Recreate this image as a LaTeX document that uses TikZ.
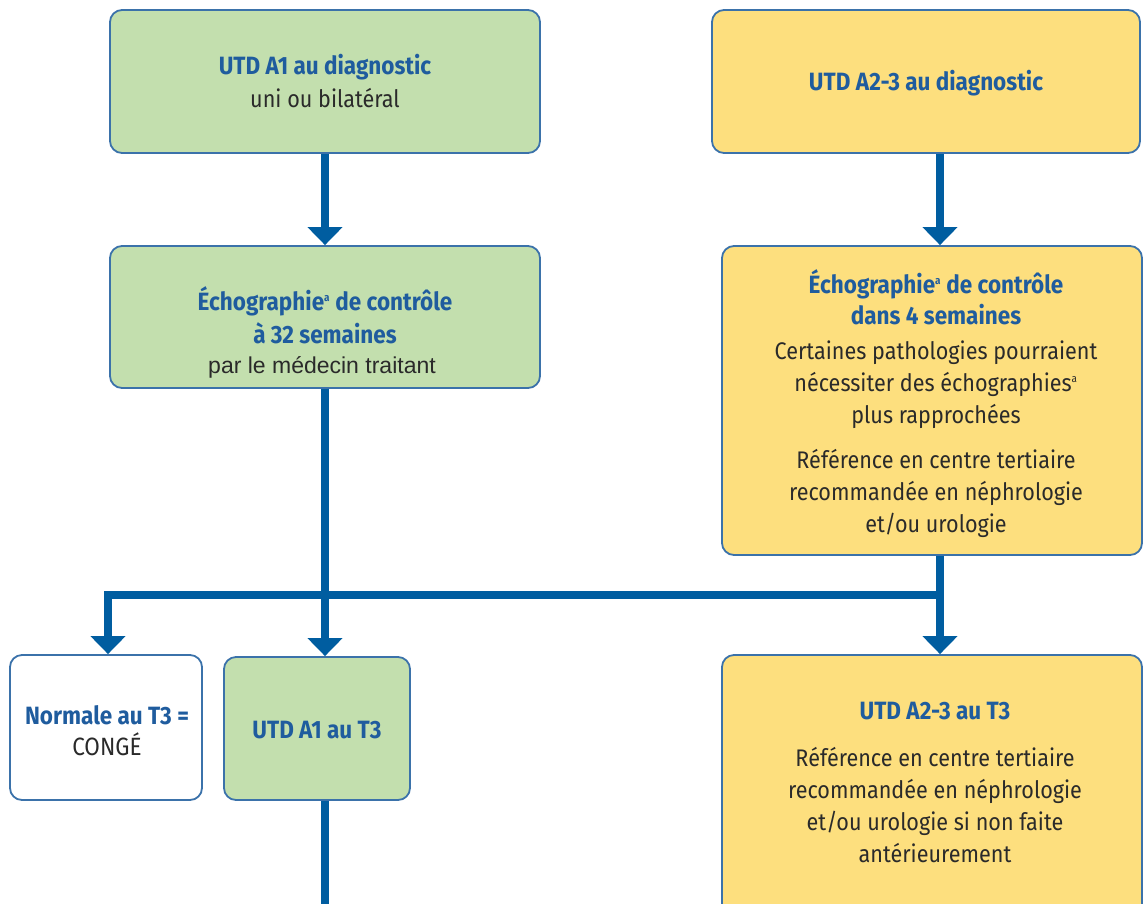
\documentclass[tikz,border=0pt]{standalone}
\usepackage{fontspec}
\setmainfont{Fira Sans}[FakeStretch=0.9]
\newfontfamily\plainfont{Liberation Sans}
\usetikzlibrary{arrows.meta}
\definecolor{boxgreen}{HTML}{C3DFAE}
\definecolor{boxyellow}{HTML}{FDDF7E}
\definecolor{edgeblue}{HTML}{3B72AA}
\definecolor{arrowblue}{HTML}{005DA0}
\definecolor{titleblue}{HTML}{1F5C9E}
\definecolor{bodytext}{HTML}{2A2A2A}
\tikzset{
  flowbox/.style={draw=edgeblue, line width=1.8pt, rounded corners=12pt, inner sep=0pt},
  greenbox/.style={flowbox, fill=boxgreen},
  yellowbox/.style={flowbox, fill=boxyellow},
  whitebox/.style={flowbox, fill=white},
  flowarrow/.style={draw=arrowblue, line width=8pt, -{Triangle[width=34pt,length=18pt]}},
  flowline/.style={draw=arrowblue, line width=8pt},
  ttl/.style={font=\fontsize{25}{31}\selectfont\bfseries, text=titleblue, inner sep=0pt, align=center},
  txt/.style={font=\fontsize{24}{32}\selectfont, text=bodytext, inner sep=0pt, align=center},
  plaintxt/.style={font=\plainfont\fontsize{23}{26}\selectfont, text=bodytext, inner sep=0pt, align=center},
}
\newcommand{\supa}{\textsuperscript{\fontsize{11}{11}\selectfont a}}
\begin{document}
\begin{tikzpicture}[x=1pt,y=-1pt]
\useasboundingbox (0,0) rectangle (1143,903);
% boxes
\node[greenbox, minimum width=430pt, minimum height=143pt] (b1) at (325,81.5) {};
\node[yellowbox, minimum width=428pt, minimum height=143pt] (b2) at (926,81.5) {};
\node[greenbox, minimum width=430pt, minimum height=142pt] (b3) at (325,317) {};
\node[yellowbox, minimum width=420pt, minimum height=309pt] (b4) at (932,400.5) {};
\node[whitebox, minimum width=192pt, minimum height=145pt] (b5) at (106,727.5) {};
\node[greenbox, minimum width=186pt, minimum height=143pt] (b6) at (317,728.5) {};
\node[yellowbox, minimum width=420pt, minimum height=270pt] (b7) at (932,790) {};
% texts
\node[ttl] (t1a) at (325,67) {UTD A1 au diagnostic};
\node[txt] (t1b) at (325,98) {uni ou bilatéral};
\node[ttl] (t2) at (926,83) {UTD A2-3 au diagnostic};
\node[ttl] (t3a) at (325,301) {Échographie\supa{} de contrôle};
\node[ttl] (t3b) at (325,333) {à 32 semaines};
\node[plaintxt] (t3c) at (322,367) {par le médecin traitant};
\node[ttl] (t4a) at (936,297) {Échographie\supa{} de contrôle\\dans 4 semaines};
\node[txt] (t4b) at (936,385) {Certaines pathologies pourraient\\nécessiter des échographies\supa\\plus rapprochées};
\node[txt] (t4c) at (936,493) {Référence en centre tertiaire\\recommandée en néphrologie\\et/ou urologie};
\node[ttl] (t5) at (107,731) {Normale au T3 =\\\mdseries\color{bodytext}CONGÉ};
\node[ttl] (t6) at (317,730) {UTD A1 au T3};
\node[ttl] (t7a) at (935,711) {UTD A2-3 au T3};
\node[txt] (t7b) at (935,805.5) {Référence en centre tertiaire\\recommandée en néphrologie\\et/ou urologie si non faite\\antérieurement};
% connector coordinates
\coordinate (colR) at (940,0);
\coordinate (juncR) at (940,595);
\coordinate (juncL) at (108,595);
\coordinate (bottom) at (325,910);
% connectors
\draw[flowarrow] (b1.south) -- (b3.north);
\draw[flowarrow] (b2.south -| colR) -- (b4.north -| colR);
\draw[flowarrow] (b3.south) -- (b6.north -| b3.south);
\draw[flowarrow] (b4.south -| colR) -- (b7.north -| colR);
\draw[flowline] ([xshift=-4pt]juncL) -- ([xshift=4pt]juncR);
\draw[flowarrow] ([yshift=-4pt]juncL) -- (b5.north -| juncL);
\draw[flowline] (b6.south -| b3.south) -- (bottom);
\end{tikzpicture}
\end{document}
